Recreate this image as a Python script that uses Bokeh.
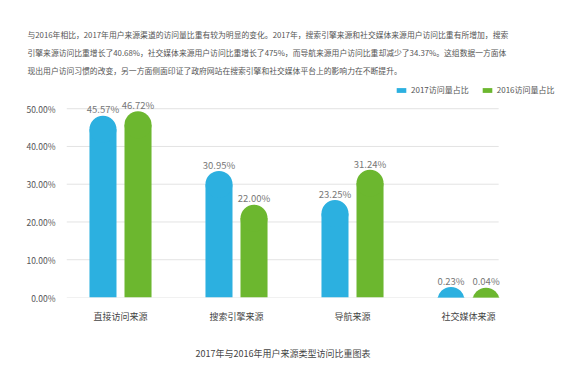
from bokeh.plotting import figure
from bokeh.models import (ColumnDataSource, Range1d, FixedTicker, Title,
                          NumeralTickFormatter, Legend, LegendItem)
from bokeh.core.properties import value
from bokeh.embed import file_html
from bokeh.resources import INLINE

# ---- data ----
categories = ["直接访问来源", "搜索引擎来源", "导航来源", "社交媒体来源"]
share_2017 = [45.57, 30.95, 23.25, 0.23]
share_2016 = [46.72, 22.00, 31.24, 0.04]
series_names = ["2017访问量占比", "2016访问量占比"]
y_ticks = [0.0, 0.1, 0.2, 0.3, 0.4, 0.5]
paragraph = [
    "与2016年相比，2017年用户来源渠道的访问量比重有较为明显的变化。2017年，搜索引擎来源和社交媒体来源用户访问比重有所增加，搜索",
    "引擎来源访问比重增长了40.68%，社交媒体来源用户访问比重增长了475%，而导航来源用户访问比重却减少了34.37%。这组数据一方面体",
    "现出用户访问习惯的改变，另一方面侧面印证了政府网站在搜索引擎和社交媒体平台上的影响力在不断提升。",
]
chart_title = "2017年与2016年用户来源类型访问比重图表"

# ---- style ----
FONT = "Noto Sans CJK SC"
BLUE = "#2cb0e0"
GREEN = "#6cb72f"
CAP_DROP = 0.01      # dome centre sits slightly below the value
BAR_W = 0.233
DODGE = 0.151
X_START, X_END = -0.4655, 3.793
GRID_X0, GRID_X1 = -0.4655, 3.26

pos = list(range(len(categories)))
v17 = [v / 100 for v in share_2017]
v16 = [v / 100 for v in share_2016]
src = ColumnDataSource(dict(
    x17=[x - DODGE for x in pos], x16=[x + DODGE for x in pos],
    v17=v17, v16=v16,
    c17=[v - CAP_DROP for v in v17],
    c16=[v - CAP_DROP for v in v16],
    t17=["%.2f%%" % v for v in share_2017],
    t16=["%.2f%%" % v for v in share_2016],
))
grid_src = ColumnDataSource(dict(y=y_ticks, x0=[GRID_X0] * len(y_ticks),
                                 x1=[GRID_X1] * len(y_ticks)))

p = figure(width=584, height=382, x_range=Range1d(X_START, X_END),
           y_range=Range1d(0, 0.58), output_backend="svg", toolbar_location=None,
           min_border_left=66, min_border_right=24, min_border_top=78,
           min_border_bottom=85)
p.outline_line_color = None
p.background_fill_color = "white"
p.border_fill_color = "white"
p.xgrid.grid_line_color = None
p.ygrid.grid_line_color = None

p.segment(x0="x0", x1="x1", y0="y", y1="y", source=grid_src,
          line_color="#e3e3e3", line_width=1)

r17 = p.vbar(x="x17", top="c17", bottom=0, width=BAR_W, source=src,
             fill_color=BLUE, line_color=None)
p.circle(x="x17", y="c17", radius=BAR_W / 2, source=src,
         fill_color=BLUE, line_color=None)
r16 = p.vbar(x="x16", top="c16", bottom=0, width=BAR_W, source=src,
             fill_color=GREEN, line_color=None)
p.circle(x="x16", y="c16", radius=BAR_W / 2, source=src,
         fill_color=GREEN, line_color=None)

for xc, col, tcol in (("x17", "v17", "t17"), ("x16", "v16", "t16")):
    p.text(x=xc, y=col, text=tcol, source=src,
           text_font=value(FONT), text_font_size="9.5px", text_color="#777777",
           text_align="center", text_baseline="middle", y_offset=-16)

# axes
p.yaxis.ticker = FixedTicker(ticks=y_ticks)
p.yaxis.formatter = NumeralTickFormatter(format="0.00%")
p.yaxis.axis_line_color = None
p.yaxis.major_tick_line_color = None
p.yaxis.minor_tick_line_color = None
p.yaxis.major_label_standoff = 5
p.yaxis.major_label_text_font = FONT
p.yaxis.major_label_text_font_size = "8.5px"
p.yaxis.major_label_text_color = "#555555"

p.xaxis.ticker = FixedTicker(ticks=pos)
p.xaxis.major_label_overrides = {i: c for i, c in zip(pos, categories)}
p.xaxis.axis_line_color = None
p.xaxis.major_tick_line_color = None
p.xaxis.minor_tick_line_color = None
p.xaxis.major_tick_out = 0
p.xaxis.major_label_standoff = 12
p.xaxis.major_label_text_font = FONT
p.xaxis.major_label_text_font_size = "9px"
p.xaxis.major_label_text_color = "#444444"

# legend
legend = Legend(items=[LegendItem(label=series_names[0], renderers=[r17]),
                       LegendItem(label=series_names[1], renderers=[r16])],
                orientation="horizontal", location=(329, 202),
                glyph_width=12, glyph_height=6, label_standoff=4, spacing=12,
                padding=0, margin=0, border_line_color=None,
                background_fill_alpha=0, label_text_font=FONT,
                label_text_font_size="8px", label_text_color="#555555",
                label_height=10)
p.add_layout(legend)

# paragraph text (added bottom line first: later titles stack further up)
for line in reversed(paragraph):
    p.add_layout(Title(text=line, text_font=FONT, text_font_size="7.8px",
                       text_font_style="normal", text_color="#555555",
                       align="left", offset=-39, standoff=5), "above")

p.add_layout(Title(text=chart_title, text_font=FONT, text_font_size="9px",
                   text_font_style="normal", text_color="#444444",
                   align="left", offset=129, standoff=38), "below")

open("out.html", "w").write(file_html(p, INLINE))
